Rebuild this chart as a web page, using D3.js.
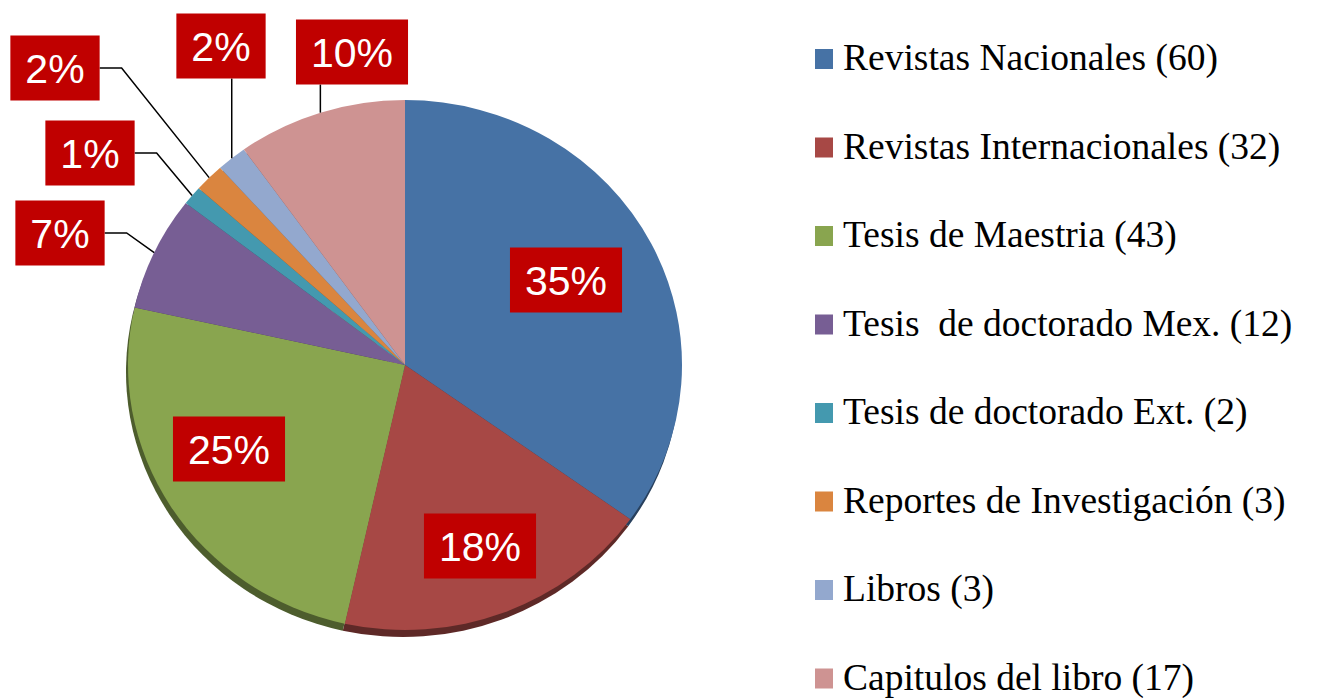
<!DOCTYPE html>
<html>
<head>
<meta charset="utf-8">
<script src="https://cdn.jsdelivr.net/npm/d3@7"></script>
<style>
  body { margin: 0; background: #fff; }
</style>
</head>
<body>
<div id="chart"></div>
<script>
// data
const categories = [
    "Revistas Nacionales (60)",
    "Revistas Internacionales (32)",
    "Tesis de Maestria (43)",
    "Tesis  de doctorado Mex. (12)",
    "Tesis de doctorado Ext. (2)",
    "Reportes de Investigación (3)",
    "Libros (3)",
    "Capitulos del libro (17)"
];
const counts = [60, 32, 43, 12, 2, 3, 3, 17];
const pctLabels = ["35%", "18%", "25%", "7%", "1%", "2%", "2%", "10%"];
const colors = ["#4672A5", "#A74845", "#89A54F", "#775E94", "#4499AF", "#DA853F", "#93A8CE", "#CE9392"];

// label box centres, relative to the pie centre, and leader style
const labelLayout = [
    { dx: 161, dy: -85, leader: null },
    { dx: 75, dy: 181, leader: null },
    { dx: -176, dy: 84, leader: null },
    { dx: -345, dy: -132, leader: "side" },
    { dx: -315, dy: -212, leader: "side" },
    { dx: -350, dy: -297, leader: "side" },
    { dx: -184, dy: -319, leader: "top" },
    { dx: -53, dy: -313, leader: "top" }
];

function drawChart() {
    const width = 1332;
    const height = 698;
    const cx = 405, cy = 365;
    const rx = 277, ry = 265;

    const svg = d3.select('#chart')
        .append('svg')
        .attr('width', width)
        .attr('height', height);

    const pie = d3.pie().sort(null).value(d => d);
    const arcs = pie(counts);

    const arc = d3.arc()
        .innerRadius(0)
        .outerRadius(rx);

    // darker rim under the pie to fake the 3D edge
    svg.append('g')
        .attr('transform', `translate(${cx - 2},${cy + 7}) scale(1,${ry / rx})`)
        .selectAll('path')
        .data(arcs)
        .enter()
        .append('path')
        .attr('d', arc)
        .attr('fill', (d, i) => d3.color(colors[i]).darker(1.6));

    svg.append('g')
        .attr('transform', `translate(${cx},${cy}) scale(1,${ry / rx})`)
        .selectAll('path')
        .data(arcs)
        .enter()
        .append('path')
        .attr('d', arc)
        .attr('fill', (d, i) => colors[i]);

    // point on the ellipse edge at the slice middle
    function edgePoint(d) {
        const a = (d.startAngle + d.endAngle) / 2;
        return [cx + rx * Math.sin(a), cy - ry * Math.cos(a)];
    }

    const labels = svg.append('g');
    const boxH = 65;

    arcs.forEach((d, i) => {
        const lay = labelLayout[i];
        const bx = cx + lay.dx, by = cy + lay.dy;

        const g = labels.append('g');
        const rect = g.append('rect').attr('fill', '#C00000');
        const txt = g.append('text')
            .attr('x', bx)
            .attr('y', by + 15)
            .attr('text-anchor', 'middle')
            .attr('fill', '#fff')
            .style('font-family', '"Liberation Sans", Arial, sans-serif')
            .style('font-size', '41px')
            .text(pctLabels[i]);
        const w = txt.node().getComputedTextLength() + 30;
        rect.attr('x', bx - w / 2)
            .attr('y', by - boxH / 2)
            .attr('width', w)
            .attr('height', boxH);

        if (lay.leader) {
            const [ex, ey] = edgePoint(d);
            let pts;
            if (lay.leader === "side") {
                pts = [[bx + w / 2, by], [bx + w / 2 + 22, by], [ex, ey]];
            } else {
                pts = [[ex, by + boxH / 2], [ex, ey]];
            }
            labels.insert('path', ':first-child')
                .attr('d', d3.line()(pts))
                .attr('fill', 'none')
                .attr('stroke', '#000')
                .attr('stroke-width', 1.5);
        }
    });

    // legend
    const legend = svg.append('g')
        .attr('transform', 'translate(815,70)');

    const rows = legend.selectAll('.legend')
        .data(categories)
        .enter()
        .append('g')
        .attr('class', 'legend')
        .attr('transform', (d, i) => `translate(0,${i * 88.5})`);

    rows.append('rect')
        .attr('x', 0)
        .attr('y', -21)
        .attr('width', 18)
        .attr('height', 20)
        .attr('fill', (d, i) => colors[i]);

    rows.append('text')
        .attr('x', 28)
        .attr('y', 0)
        .style('font-family', '"Liberation Serif", "Times New Roman", serif')
        .style('font-size', '37.5px')
        .style('white-space', 'pre')
        .attr('fill', '#000')
        .text(d => d);
}

drawChart();
</script>
</body>
</html>
